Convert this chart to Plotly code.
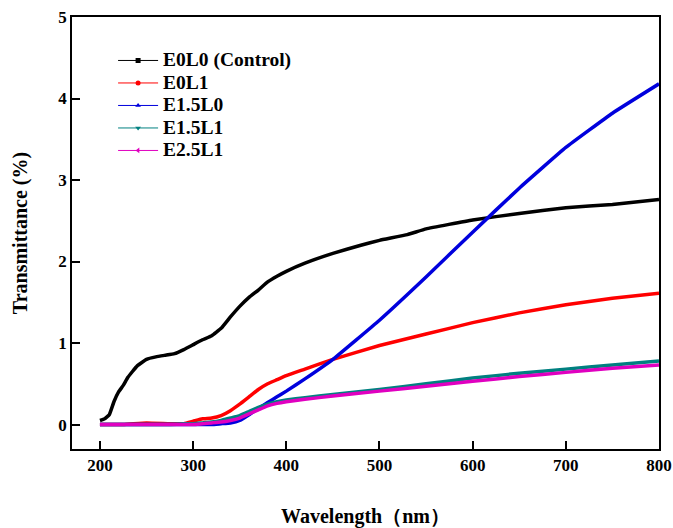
import plotly.graph_objects as go

wl_e0l0 = [200, 205, 210, 215, 220, 225, 230, 240, 250, 260, 270, 280, 290, 300, 310, 320, 330, 340, 350, 360, 370, 380, 390, 400, 420, 450, 480, 500, 530, 550, 600, 650, 700, 750, 800]
t_e0l0 = [0.05, 0.07, 0.12, 0.28, 0.40, 0.48, 0.58, 0.72, 0.80, 0.83, 0.85, 0.87, 0.92, 0.98, 1.04, 1.09, 1.18, 1.32, 1.45, 1.56, 1.65, 1.75, 1.82, 1.88, 1.98, 2.10, 2.20, 2.26, 2.33, 2.40, 2.51, 2.59, 2.66, 2.70, 2.76]

wl = [200, 225, 250, 275, 290, 300, 310, 320, 330, 340, 350, 360, 370, 380, 390, 400, 420, 450, 500, 550, 600, 650, 700, 750, 800]
t_e0l1 = [0.0, 0.0, 0.02, 0.01, 0.01, 0.04, 0.07, 0.08, 0.11, 0.17, 0.25, 0.34, 0.43, 0.50, 0.55, 0.60, 0.68, 0.80, 0.97, 1.11, 1.25, 1.37, 1.47, 1.55, 1.61]
t_e15l0 = [0.0, 0.0, 0.0, 0.0, 0.0, 0.0, 0.0, 0.0, 0.01, 0.02, 0.05, 0.12, 0.20, 0.27, 0.34, 0.41, 0.56, 0.80, 1.28, 1.81, 2.36, 2.90, 3.40, 3.82, 4.18]
t_e15l1 = [0.0, 0.0, 0.0, 0.0, 0.01, 0.01, 0.02, 0.03, 0.05, 0.08, 0.11, 0.16, 0.21, 0.25, 0.28, 0.30, 0.33, 0.37, 0.43, 0.50, 0.57, 0.63, 0.68, 0.73, 0.78]
t_e25l1 = [0.0, 0.0, 0.0, 0.0, 0.0, 0.0, 0.01, 0.02, 0.03, 0.05, 0.08, 0.13, 0.18, 0.23, 0.26, 0.28, 0.31, 0.35, 0.41, 0.47, 0.53, 0.59, 0.64, 0.69, 0.73]

names = ["E0L0 (Control)", "E0L1", "E1.5L0", "E1.5L1", "E2.5L1"]
colors = ["#000000", "#ff0000", "#0000dd", "#008080", "#e000c0"]
symbols = ["square", "circle", "triangle-up", "triangle-down", "triangle-left"]
xs = [wl_e0l0, wl, wl, wl, wl]
ys = [t_e0l0, t_e0l1, t_e15l0, t_e15l1, t_e25l1]

fig = go.Figure()
for i in range(5):
    fig.add_trace(go.Scatter(x=xs[i], y=ys[i], mode="lines",
                             line=dict(color=colors[i], width=3.5, shape="spline", smoothing=0.3),
                             showlegend=False, hoverinfo="skip"))
for i in range(5):
    fig.add_trace(go.Scatter(x=[None], y=[None], mode="lines+markers",
                             name='<span style="font-size:19.5px">' + names[i] + '</span>',
                             line=dict(color=colors[i], width=1),
                             marker=dict(color=colors[i], symbol=symbols[i], size=5)))

font_fam = "Liberation Serif"
fig.update_layout(
    width=673, height=528,
    margin=dict(l=72, r=14, t=17, b=79, autoexpand=False),
    plot_bgcolor="white", paper_bgcolor="white",
    font=dict(family=font_fam, color="black"),
    showlegend=True,
    legend=dict(x=0.07, y=0.937, xanchor="left", yanchor="top", bgcolor="rgba(0,0,0,0)",
                font=dict(family=font_fam, size=15, color="black", weight="bold"),
                tracegroupgap=0, itemwidth=40),
    xaxis=dict(range=[170, 800], tickvals=[200, 300, 400, 500, 600, 700, 800],
               ticks="inside", ticklen=8, tickwidth=1.5, tickcolor="black", automargin=False,
               showline=True, linecolor="black", linewidth=1.5, mirror=True, showgrid=False, zeroline=False,
               tickfont=dict(family=font_fam, size=17, color="black", weight="bold"),
               title=dict(text="Wavelength（nm）", font=dict(family=font_fam, size=20, color="black", weight="bold"), standoff=45)),
    yaxis=dict(range=[-0.3, 5], tickvals=[0, 1, 2, 3, 4, 5],
               ticks="inside", ticklen=8, tickwidth=1.5, tickcolor="black", automargin=False,
               showline=True, linecolor="black", linewidth=1.5, mirror=True, showgrid=False, zeroline=False,
               tickfont=dict(family=font_fam, size=17, color="black", weight="bold"),
               title=dict(text="Transmittance (%)", font=dict(family=font_fam, size=20, color="black", weight="bold"), standoff=25)),
)
fig.write_html("out.html")
